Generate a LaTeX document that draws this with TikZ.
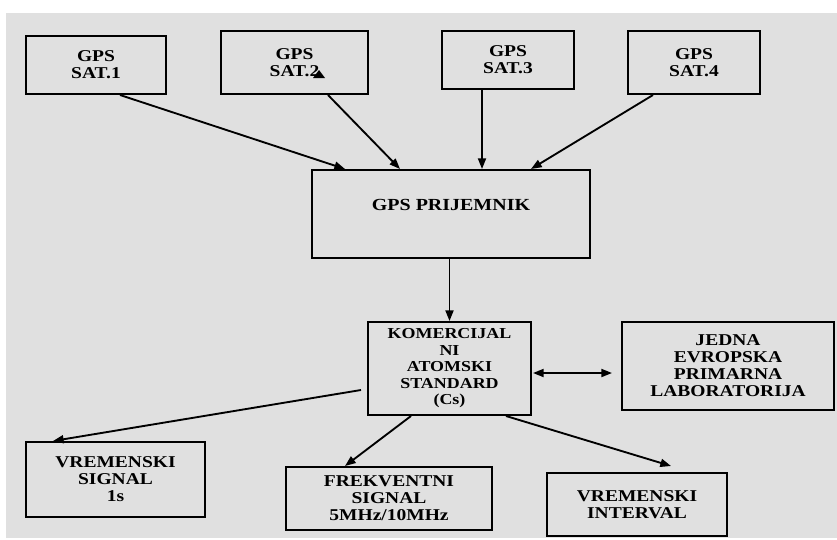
\documentclass[tikz,border=0pt]{standalone}
\usepackage{fontspec}
\setmainfont{Liberation Serif}[FakeStretch=1.18]
\usetikzlibrary{arrows.meta, calc}
\definecolor{bggray}{RGB}{224,224,224}

\begin{document}
\begin{tikzpicture}[
  x=0.75pt, y=-0.75pt,
  font={\bfseries\fontsize{12.4}{12.75}\selectfont},
  msg/.style={-{Triangle[length=8pt, width=6pt]}, line width=1.4pt},
  dbl/.style={{Triangle[length=8pt, width=6pt]}-{Triangle[length=8pt, width=6pt]}, line width=1.4pt},
  blok/.style={rectangle, draw=black, line width=1.5pt, align=center, inner sep=0pt}
]
  \useasboundingbox (0,0) rectangle (837,539);
  \fill[bggray] (6,13) rectangle (837,538);

  % sateliti
  \node[blok, minimum width=105pt,    minimum height=43.5pt]  (sat1) at (96,65)    {GPS\\SAT.1};
  \node[blok, minimum width=110.25pt, minimum height=47.25pt] (sat2) at (294.5,62.5) {GPS\\SAT.2};
  \node[blok, minimum width=99pt,     minimum height=43.5pt]  (sat3) at (508,60)   {GPS\\SAT.3};
  \node[blok, minimum width=99pt,     minimum height=47.25pt] (sat4) at (694,62.5) {GPS\\SAT.4};
  \fill (313,78) -- (319,70) -- (325,78) -- cycle;

  % prijemnik i standard
  \node[blok, minimum width=208.5pt, minimum height=66pt, text depth=13.5pt,
        font={\bfseries\fontsize{12.7}{13}\selectfont}] (prij) at (451,214) {GPS PRIJEMNIK};
  \node[blok, minimum width=122.25pt, minimum height=69.75pt,
        font={\bfseries\fontsize{11.4}{12.4}\selectfont}] (kom) at (449.5,368.5)
        {KOMERCIJAL\\NI\\ATOMSKI\\STANDARD\\(Cs)};
  \node[blok, minimum width=159pt, minimum height=66pt] (lab) at (728,366)
        {JEDNA\\EVROPSKA\\PRIMARNA\\LABORATORIJA};

  % izlazi
  \node[blok, minimum width=134.25pt, minimum height=56.25pt] (vsig) at (115.5,479.5) {VREMENSKI\\SIGNAL\\1s};
  \node[blok, minimum width=154.5pt,  minimum height=47.25pt] (frek) at (389,498.5)  {FREKVENTNI\\SIGNAL\\5MHz/10MHz};
  \node[blok, minimum width=135pt,    minimum height=47.25pt] (vint) at (637,504.5)  {VREMENSKI\\INTERVAL};

  % veze
  \foreach \s/\a/\b in {sat1/24/-106, sat2/33.5/-51, sat3/-26/31, sat4/-41/80}
    \draw[msg] ($(\s.south)+(\a,0)$) -- ($(prij.north)+(\b,0)$);
  \draw[msg] (kom.north |- prij.south) -- (kom.north);
  \draw[dbl] ($(kom.east)+(1,4.5)$) -- ($(lab.west)+(-9,7)$);
  \draw[msg] ($(kom.west)+(-6,21.5)$) -- ($(vsig.north)+(-62.5,0)$);
  \draw[msg] ($(kom.south)+(-38.5,0)$) -- ($(frek.north)+(-44,0)$);
  \draw[msg] ($(kom.south)+(56.5,0)$) -- ($(vint.north)+(34,-6)$);
\end{tikzpicture}
\end{document}
